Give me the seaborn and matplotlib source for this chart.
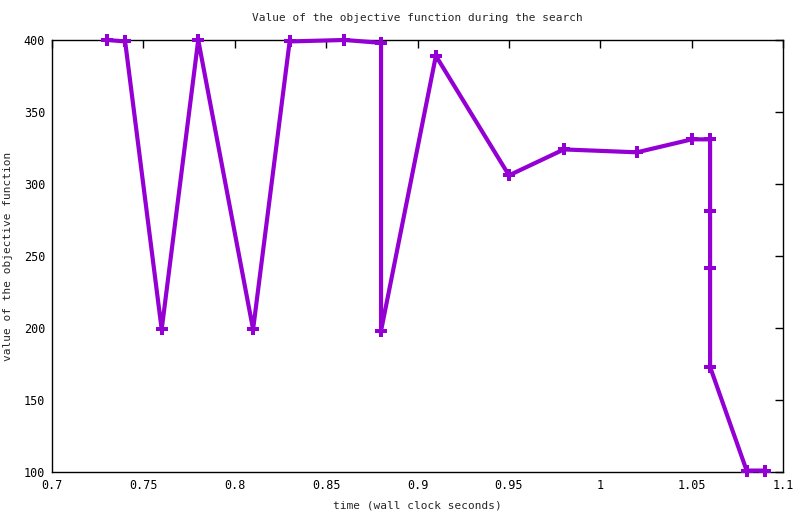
import matplotlib
matplotlib.use("Agg")
import matplotlib.pyplot as plt
import seaborn as sns
import pandas as pd

time_s = [0.73, 0.74, 0.76, 0.78, 0.81, 0.83, 0.86, 0.88, 0.88, 0.91, 0.95,
          0.98, 1.02, 1.05, 1.06, 1.06, 1.06, 1.06, 1.08, 1.09]
objective = [400, 399, 199, 400, 199, 399, 400, 398, 198, 389, 306,
             324, 322, 331, 331, 281, 242, 173, 101, 101]
x_ticks = [0.7, 0.75, 0.8, 0.85, 0.9, 0.95, 1.0, 1.05, 1.1]
x_tick_labels = ["0.7", "0.75", "0.8", "0.85", "0.9", "0.95", "1", "1.05", "1.1"]
y_ticks = [100, 150, 200, 250, 300, 350, 400]

df = pd.DataFrame({"time": time_s, "value": objective})

sns.set_style("white")
plt.rcParams['font.family'] = ['DejaVu Sans Mono', 'DejaVu Sans']

fig = plt.figure(figsize=(8, 5.14), dpi=100)
ax = fig.add_axes([0.065, 0.0817, 0.914, 0.8405])

sns.lineplot(data=df, x="time", y="value", sort=False, estimator=None,
             color="#9400D3", linewidth=3, marker="P", markersize=9,
             markeredgewidth=0, ax=ax)
for ln in ax.get_lines():
    ln.set_clip_on(False)
    ln.set_zorder(5)

ax.set_xlim(0.7, 1.1)
ax.set_ylim(100, 400)
ax.set_xticks(x_ticks)
ax.set_xticklabels(x_tick_labels)
ax.set_yticks(y_ticks)
ax.tick_params(direction="in", length=6, width=1, top=True, right=True,
               labelsize=8.5, colors="black", pad=5)
for s in ax.spines.values():
    s.set_color("black")
    s.set_linewidth(1)
ax.set_title("Value of the objective function during the search", fontsize=8, pad=14)
ax.set_xlabel("time (wall clock seconds)", fontsize=8, labelpad=6)
ax.set_ylabel("value of the objective function", fontsize=8, labelpad=8)

fig.savefig("out.png", dpi=100)
